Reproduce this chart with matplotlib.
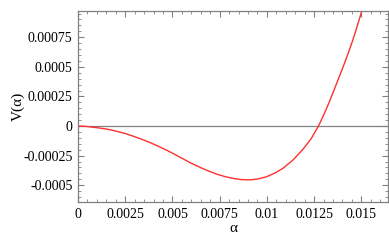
import numpy as np
import matplotlib
matplotlib.use('Agg')
import matplotlib.pyplot as plt
from matplotlib.ticker import MultipleLocator

# values
alpha = [0.0, 0.00035, 0.00071, 0.00115, 0.00159, 0.00203, 0.00247, 0.00291,
         0.00335, 0.00379, 0.00423, 0.00468, 0.00512, 0.00556, 0.00600,
         0.00670, 0.00732, 0.00776, 0.00820, 0.00864, 0.00908, 0.00952,
         0.00997, 0.01041, 0.01085, 0.01138, 0.01190, 0.01235, 0.01273,
         0.01301, 0.01332, 0.01358, 0.01385, 0.01407, 0.01429, 0.01447,
         0.01464, 0.01482, 0.01500, 0.01512]
V = [0.0, -0.0000020, -0.0000084, -0.0000170, -0.0000279, -0.0000437,
     -0.0000617, -0.0000850, -0.000110, -0.000138, -0.000169, -0.000203,
     -0.000239, -0.000277, -0.000315, -0.000366, -0.000405, -0.000426,
     -0.000442, -0.000452, -0.000455, -0.000447, -0.000429, -0.000398,
     -0.000357, -0.000287, -0.000198, -0.000105, 0.0, 0.000095, 0.000210,
     0.000315, 0.000425, 0.000515, 0.000610, 0.000690, 0.000772, 0.000865,
     0.000960, 0.00103]

xticks = [0, 0.0025, 0.005, 0.0075, 0.01, 0.0125, 0.015]
xticklabels = ['0', '0.0025', '0.005', '0.0075', '0.01', '0.0125', '0.015']
yticks = [-0.0005, -0.00025, 0, 0.00025, 0.0005, 0.00075]
yticklabels = ['-0.0005', '-0.00025', '0', '0.00025', '0.0005', '0.00075']

plt.rcParams['font.family'] = ['Liberation Serif', 'DejaVu Serif']

fig = plt.figure(figsize=(3.89, 2.41), dpi=100)
ax = fig.add_axes([0.2005, 0.1606, 0.7965, 0.795])

ax.axhline(0, color='#808080', lw=0.9, zorder=1)
ax.plot(alpha, V, color='#ff3030', lw=1.0, zorder=2)

ax.set_xlim(0, 0.0164)
ax.set_ylim(-0.000644, 0.000974)

ax.set_xticks(xticks)
ax.set_xticklabels(xticklabels)
ax.set_yticks(yticks)
ax.set_yticklabels(yticklabels)
ax.xaxis.set_minor_locator(MultipleLocator(0.0005))
ax.yaxis.set_minor_locator(MultipleLocator(0.00005))

gray = '#808080'
for s in ax.spines.values():
    s.set_color(gray)
    s.set_linewidth(0.9)
ax.tick_params(which='both', direction='in', top=True, right=True,
               color=gray, labelsize=10, labelcolor='black')
ax.tick_params(which='major', length=4, width=0.8, pad=4)
ax.tick_params(which='minor', length=2, width=0.6)

ax.set_xlabel('α', fontsize=11, labelpad=1)
ax.set_ylabel('V(α)', fontsize=11, labelpad=-1)

plt.savefig('out.png', dpi=100)
